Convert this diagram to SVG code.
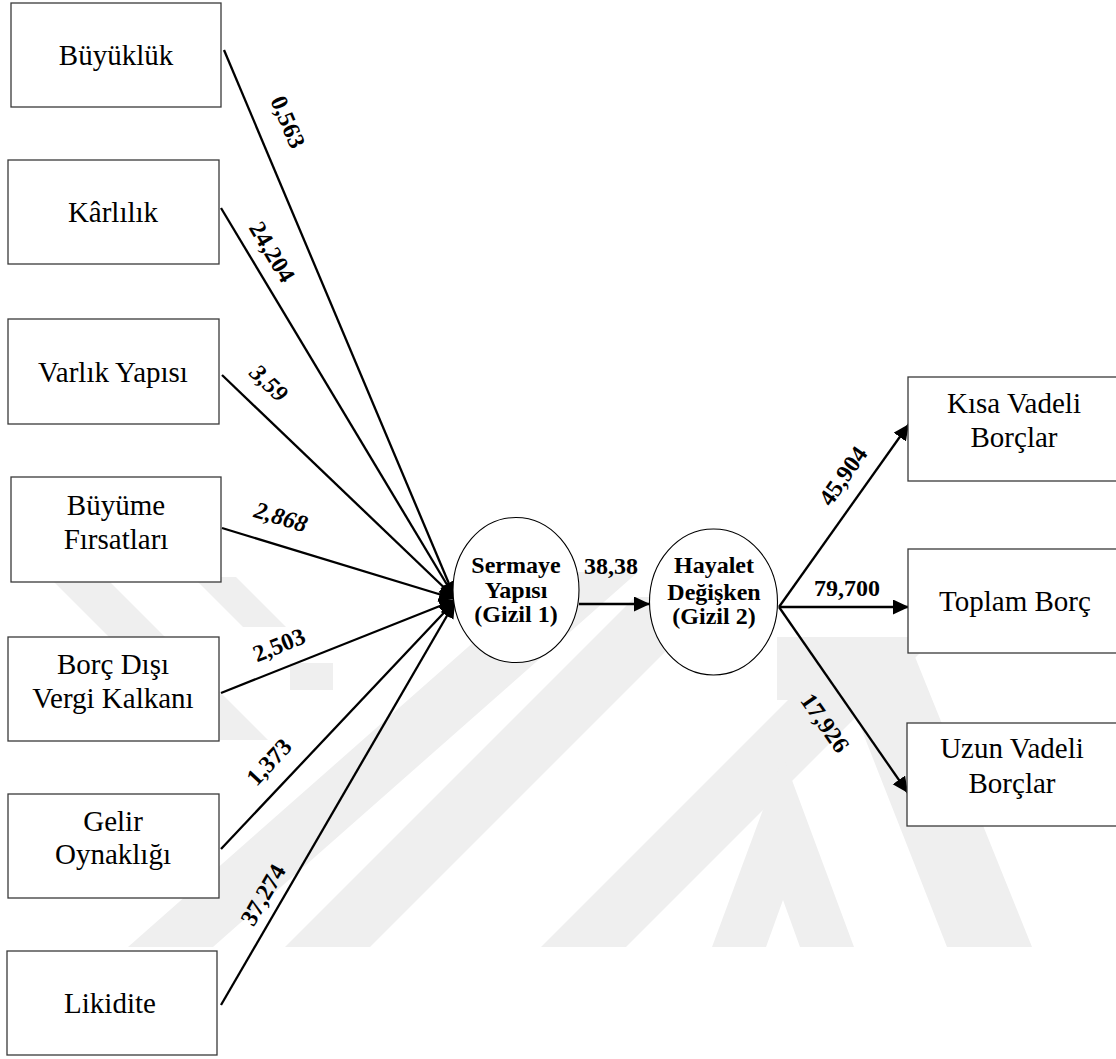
<svg xmlns="http://www.w3.org/2000/svg" width="1116" height="1059" viewBox="0 0 1116 1059">
  <style>
    .box { fill: #ffffff; stroke: #3a3a3a; stroke-width: 1.3; }
    .ell { fill: #ffffff; stroke: #000000; stroke-width: 1.1; }
    .lbl { font-family: "Liberation Serif", "Times New Roman", serif; font-size: 29px; fill: #000; text-anchor: middle; }
    .lat { font-family: "Liberation Serif", "Times New Roman", serif; font-size: 24px; font-weight: bold; fill: #000; text-anchor: middle; }
    .num { font-family: "Liberation Serif", "Times New Roman", serif; font-size: 24px; font-weight: bold; fill: #000; text-anchor: middle; }
    .it { font-style: italic; }
    .edge { stroke: #000; stroke-width: 2.3; fill: none; marker-end: url(#head); }
    .wm { fill: #efefef; }
  </style>
  <defs>
    <marker id="head" markerUnits="userSpaceOnUse" markerWidth="17" markerHeight="16" refX="16" refY="7.5" orient="auto">
      <path d="M0,0 L16,7.5 L0,15 z" fill="#000"/>
    </marker>
  </defs>

  <rect width="1116" height="1059" fill="#ffffff"/>

  <!-- faint background emblem -->
  <g id="emblem">
    <polygon class="wm" points="52,580 108,580 268,740 212,740"/>
    <polygon class="wm" points="193,577 236,577 286,627 243,627"/>
    <polygon class="wm" points="290,663 333,663 333,690 290,690"/>
    <polygon class="wm" points="128,947 213,947 638,572 553,572"/>
    <polygon class="wm" points="285,947 370,947 720,597 635,597"/>
    <polygon class="wm" points="541,947 626,947 936,637 851,637"/>
    <polygon class="wm" points="777,637 907,637 1032,947 947,947 850,700 777,700"/>
    <polygon class="wm" points="712,947 783,756 854,947 800,947 783,900 766,947"/>
  </g>

  <!-- connectors -->
  <g id="connectors">
    <line class="edge" x1="224" y1="50" x2="455" y2="598"/>
    <line class="edge" x1="221" y1="208" x2="455" y2="598"/>
    <line class="edge" x1="222" y1="375" x2="455" y2="598"/>
    <line class="edge" x1="222" y1="528" x2="455" y2="599"/>
    <line class="edge" x1="221" y1="693" x2="455" y2="600"/>
    <line class="edge" x1="221" y1="849" x2="455" y2="601"/>
    <line class="edge" x1="221" y1="1005" x2="455" y2="602"/>
    <line class="edge" x1="579" y1="604" x2="650" y2="604"/>
    <line class="edge" x1="779" y1="607" x2="909" y2="424"/>
    <line class="edge" x1="779" y1="607" x2="909" y2="607"/>
    <line class="edge" x1="779" y1="607" x2="908" y2="793"/>

    <!-- path coefficients -->
    <text class="num" transform="translate(288,122) rotate(67)" y="8">0,563</text>
    <text class="num" transform="translate(272,252) rotate(59)" y="8">24,204</text>
    <text class="num it" transform="translate(269,383) rotate(44)" y="8">3,59</text>
    <text class="num it" transform="translate(281,517) rotate(17)" y="8">2,868</text>
    <text class="num" transform="translate(279,645) rotate(-22)" y="8">2,503</text>
    <text class="num" transform="translate(269,762) rotate(-47)" y="8">1,373</text>
    <text class="num" transform="translate(263,895) rotate(-60)" y="8">37,274</text>
    <text class="num" x="611" y="574">38,38</text>
    <text class="num" transform="translate(843,476) rotate(-55)" y="8">45,904</text>
    <text class="num" x="847" y="596">79,700</text>
    <text class="num" transform="translate(825,723) rotate(55)" y="8">17,926</text>
  </g>

  <!-- determinants -->
  <g id="buyukluk">
    <rect class="box" x="11" y="3" width="210" height="104"/>
    <text class="lbl" x="116" y="65">Büyüklük</text>
  </g>
  <g id="karlilik">
    <rect class="box" x="8" y="160" width="211" height="104"/>
    <text class="lbl" x="113" y="222">Kârlılık</text>
  </g>
  <g id="varlik-yapisi">
    <rect class="box" x="8" y="319" width="211" height="105"/>
    <text class="lbl" x="113" y="382">Varlık Yapısı</text>
  </g>
  <g id="buyume-firsatlari">
    <rect class="box" x="11" y="477" width="210" height="105"/>
    <text class="lbl" x="116" y="515">Büyüme</text>
    <text class="lbl" x="116" y="549">Fırsatları</text>
  </g>
  <g id="borc-disi-vergi-kalkani">
    <rect class="box" x="8" y="637" width="211" height="104"/>
    <text class="lbl" x="113" y="674">Borç Dışı</text>
    <text class="lbl" x="113" y="708">Vergi Kalkanı</text>
  </g>
  <g id="gelir-oynakligi">
    <rect class="box" x="8" y="794" width="211" height="104"/>
    <text class="lbl" x="113" y="831">Gelir</text>
    <text class="lbl" x="113" y="864">Oynaklığı</text>
  </g>
  <g id="likidite">
    <rect class="box" x="7" y="951" width="210" height="104"/>
    <text class="lbl" x="110" y="1013">Likidite</text>
  </g>

  <!-- latent variables -->
  <g id="sermaye-yapisi">
    <ellipse class="ell" cx="516" cy="590" rx="63" ry="72.5"/>
    <text class="lat" x="516" y="573">Sermaye</text>
    <text class="lat" x="516" y="598">Yapısı</text>
    <text class="lat" x="516" y="622">(Gizil 1)</text>
  </g>
  <g id="hayalet-degisken">
    <ellipse class="ell" cx="713.5" cy="602" rx="64" ry="73"/>
    <text class="lat" x="714" y="573">Hayalet</text>
    <text class="lat" x="714" y="600">Değişken</text>
    <text class="lat" x="714" y="624">(Gizil 2)</text>
  </g>

  <!-- debt measures -->
  <g id="kisa-vadeli-borclar">
    <rect class="box" x="908" y="377" width="212" height="104"/>
    <text class="lbl" x="1014" y="413">Kısa Vadeli</text>
    <text class="lbl" x="1014" y="447">Borçlar</text>
  </g>
  <g id="toplam-borc">
    <rect class="box" x="908" y="549" width="212" height="104"/>
    <text class="lbl" x="1015" y="611">Toplam Borç</text>
  </g>
  <g id="uzun-vadeli-borclar">
    <rect class="box" x="907" y="723" width="213" height="103"/>
    <text class="lbl" x="1012" y="758">Uzun Vadeli</text>
    <text class="lbl" x="1012" y="793">Borçlar</text>
  </g>
</svg>
